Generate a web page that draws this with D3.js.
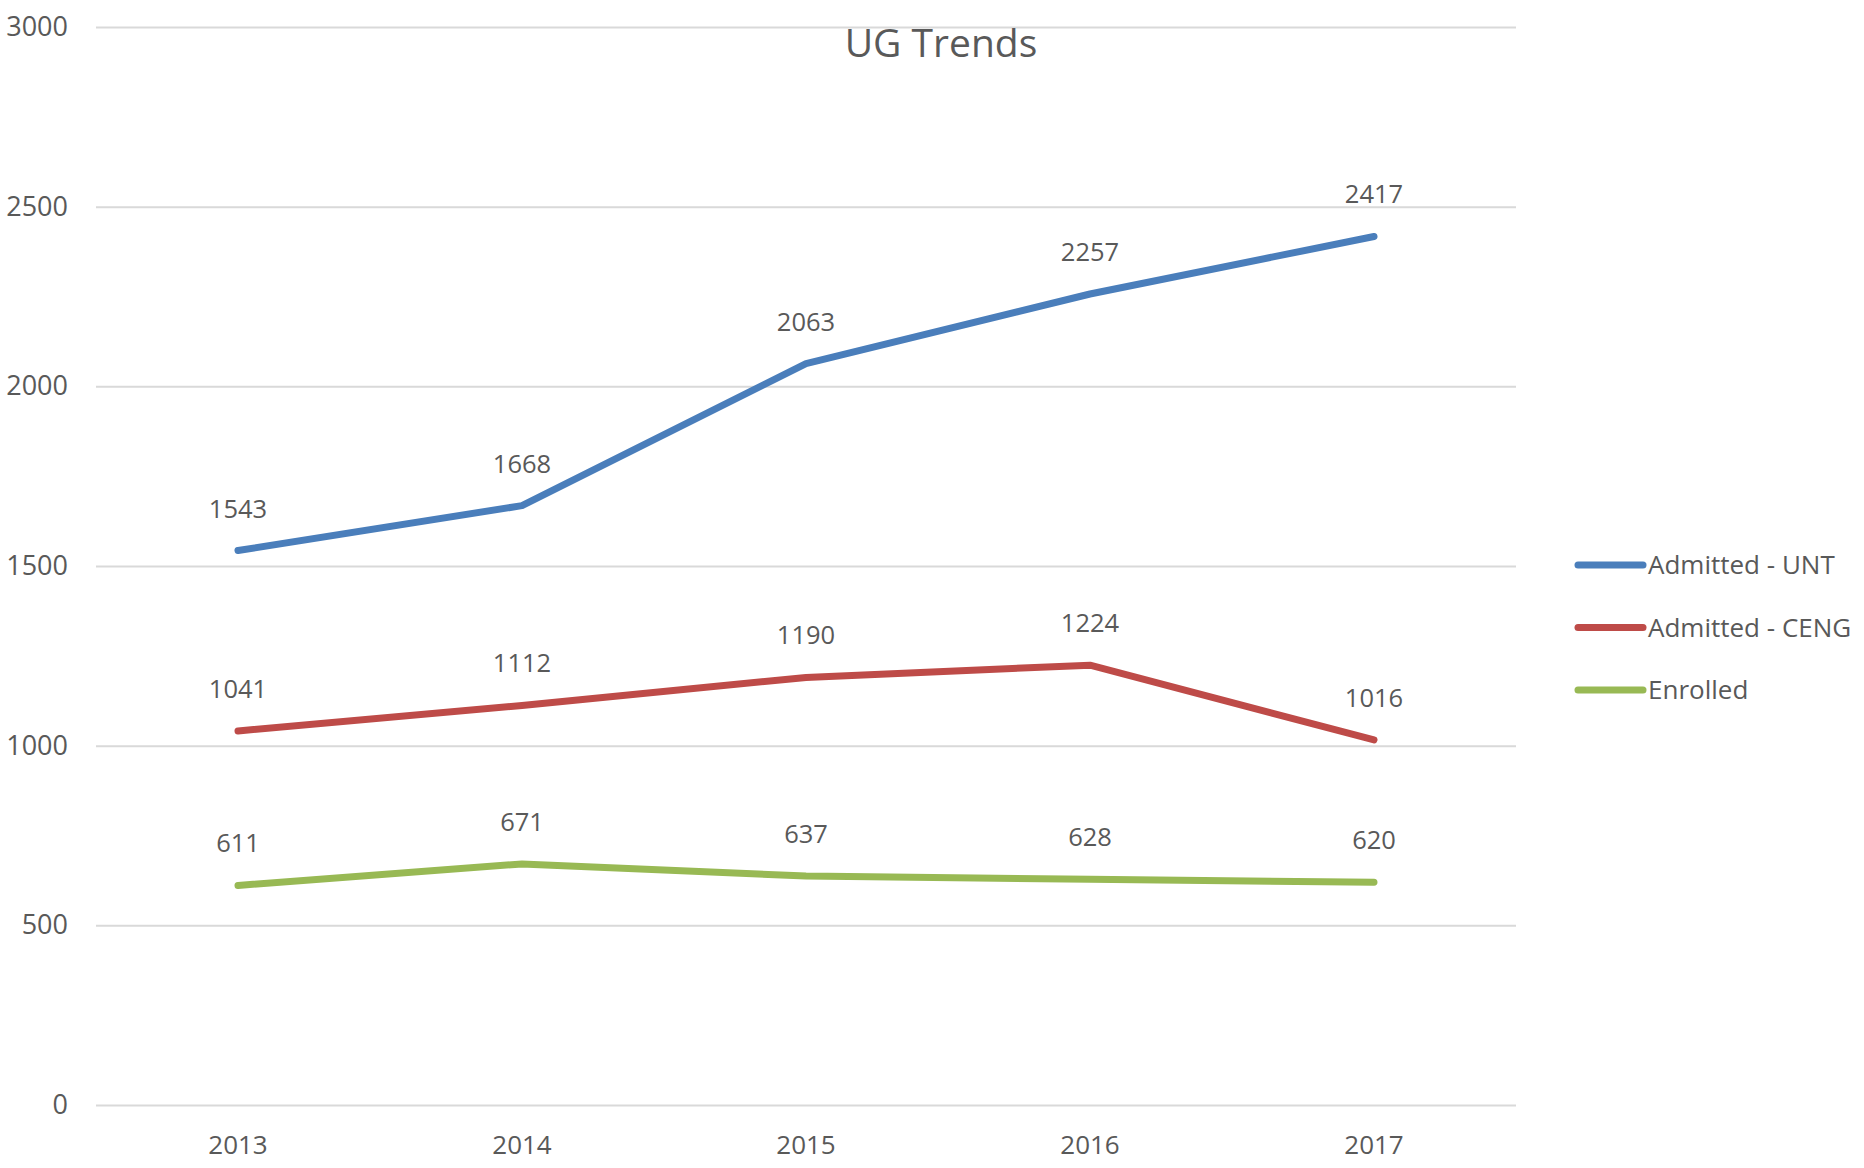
<!DOCTYPE html>
<html>
<head>
<meta charset="utf-8">
<script src="https://cdn.jsdelivr.net/npm/d3@7"></script>
<style>
  html, body { margin: 0; padding: 0; background: #fff; }
  svg { display: block; }
  text { font-family: "Open Sans", "DejaVu Sans", sans-serif; fill: #595959; }
</style>
</head>
<body>
<svg id="chart" width="1864" height="1168"></svg>
<script>
const title = "UG Trends";
const categories = ["2013", "2014", "2015", "2016", "2017"];
const seriesNames = ["Admitted - UNT", "Admitted - CENG", "Enrolled"];
const admittedUNT = [1543, 1668, 2063, 2257, 2417];
const admittedCENG = [1041, 1112, 1190, 1224, 1016];
const enrolled = [611, 671, 637, 628, 620];
const yTicks = [0, 500, 1000, 1500, 2000, 2500, 3000];
const colors = ["#4a7ebb", "#be4b48", "#98b954"];

(function () {
const series = [admittedUNT, admittedCENG, enrolled].map((vals, i) => ({
  name: seriesNames[i], values: vals, color: colors[i]
}));

const svg = d3.select("#chart");
const pLeft = 96, pRight = 1516, pTop = 27, pBottom = 1105;

const x = d3.scaleBand().domain(categories).range([pLeft, pRight]);
const y = d3.scaleLinear().domain([0, 3000]).range([pBottom, pTop]);

// gridlines + y labels
const yAxis = d3.axisLeft(y).tickValues(yTicks).tickSize(-(pRight - pLeft)).tickPadding(28).tickFormat(d3.format("d"));
const gy = svg.append("g").attr("transform", `translate(${pLeft},0)`).call(yAxis);
gy.select(".domain").remove();
gy.selectAll(".tick line").attr("stroke", "#d9d9d9").attr("stroke-width", 2);
gy.selectAll(".tick text").attr("font-size", 27).attr("fill", "#595959")
  .style("font-family", '"Open Sans", sans-serif');

// x labels
const xAxis = d3.axisBottom(x).tickSize(0).tickPadding(31);
const gx = svg.append("g").attr("transform", `translate(0,${pBottom})`).call(xAxis);
gx.select(".domain").remove();
gx.selectAll(".tick text").attr("font-size", 26).attr("fill", "#595959")
  .style("font-family", '"Open Sans", sans-serif');

// title
svg.append("text").attr("x", 941).attr("y", 57).attr("text-anchor", "middle")
  .attr("font-size", 39).text(title);

const cx = d => x(d) + x.bandwidth() / 2;
const line = d3.line().x((d, i) => cx(categories[i])).y(d => y(d));

series.forEach(s => {
  svg.append("path").datum(s.values).attr("d", line)
    .attr("fill", "none").attr("stroke", s.color).attr("stroke-width", 7)
    .attr("stroke-linecap", "round").attr("stroke-linejoin", "round");
  svg.append("g").selectAll("text").data(s.values).join("text")
    .attr("x", (d, i) => cx(categories[i]))
    .attr("y", d => y(d) - 33)
    .attr("text-anchor", "middle").attr("font-size", 25.5).attr("fill", "#404040")
    .text(d => d);
});

// legend
const legend = svg.append("g");
series.forEach((s, i) => {
  const ly = 565 + i * 62.5;
  legend.append("line").attr("x1", 1578).attr("x2", 1643).attr("y1", ly).attr("y2", ly)
    .attr("stroke", s.color).attr("stroke-width", 7).attr("stroke-linecap", "round");
  legend.append("text").attr("x", 1648).attr("y", ly + 9).attr("font-size", 26).text(s.name);
});
})();
</script>
</body>
</html>
